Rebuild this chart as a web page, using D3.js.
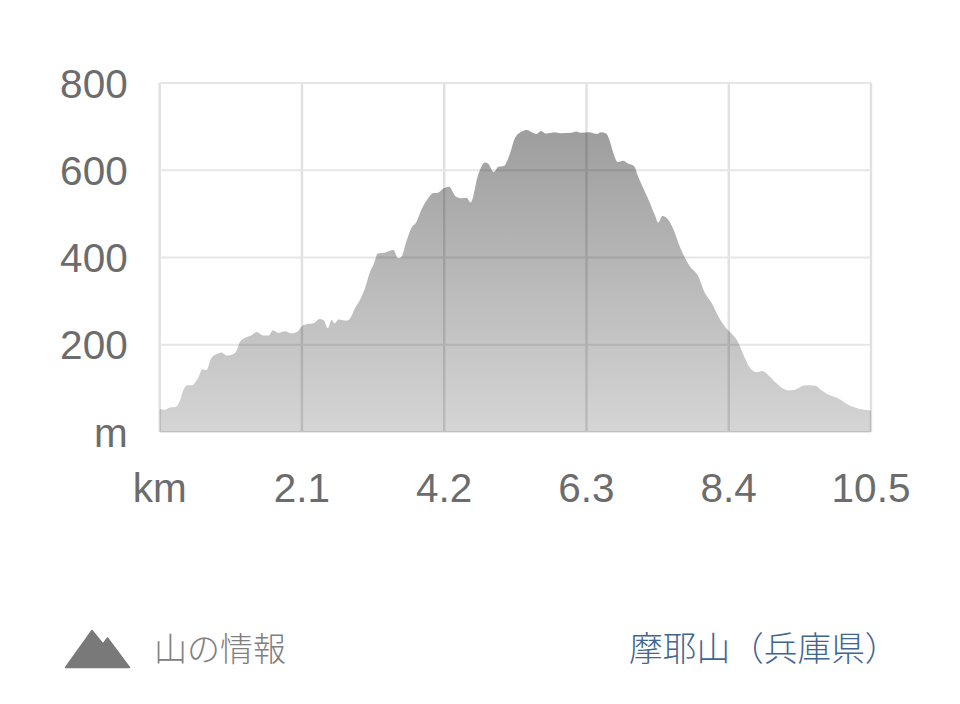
<!DOCTYPE html>
<html><head><meta charset="utf-8">
<script src="https://cdn.jsdelivr.net/npm/d3@7"></script>
<style>
html,body{margin:0;padding:0;background:#fff}
svg{display:block}
.axis text{font-family:"Liberation Sans",Arial,sans-serif;font-size:40.5px;fill:#6c6c6c}
.axis path.domain{display:none}
.axis line{stroke:#e6e6e6;stroke-width:2.2px}
.axis.xa line{stroke:#e0e0e0;stroke-width:2.4px}
</style></head><body>
<svg id="c" width="960" height="704"></svg>
<script>
const distanceKm=[0,.07,.15,.24,.30,.36,.42,.47,.57,.63,.69,.76,.86,.91,.99,1.08,1.14,1.18,1.28,1.35,1.43,1.53,1.61,1.67,1.75,1.85,1.94,2.04,2.12,2.27,2.36,2.42,2.48,2.54,2.58,2.64,2.76,2.81,2.88,2.95,3.03,3.10,3.16,3.22,3.32,3.45,3.52,3.57,3.64,3.72,3.78,3.87,3.96,4.04,4.10,4.19,4.27,4.37,4.46,4.53,4.59,4.70,4.80,4.85,4.93,5.0,5.08,5.17,5.24,5.34,5.42,5.49,5.56,5.63,5.70,5.83,5.91,6.08,6.15,6.21,6.33,6.40,6.46,6.51,6.59,6.64,6.70,6.76,6.84,6.92,7.0,7.07,7.14,7.24,7.31,7.36,7.42,7.48,7.58,7.68,7.83,7.94,8.05,8.15,8.25,8.35,8.44,8.52,8.62,8.70,8.81,8.89,9.0,9.11,9.28,9.36,9.53,9.68,9.75,9.85,10.02,10.17,10.34,10.5];
const elevationM=[53,51,56,58,73,100,108,107,125,144,142,169,180,182,175,178,188,205,217,221,229,221,221,233,227,231,226,231,245,249,259,256,238,257,249,258,255,260,283,301,329,365,385,409,411,417,398,402,436,469,479,512,535,548,548,558,562,540,536,537,526,589,618,615,596,608,610,638,672,688,692,687,683,690,684,687,685,686,689,686,687,685,683,687,684,669,638,619,622,615,610,583,558,524,497,480,495,491,466,424,379,360,318,295,264,240,226,211,176,150,137,140,128,111,95,96,107,106,98,87,77,62,53,49];
const xTicks=[0,2.1,4.2,6.3,8.4,10.5];
const xTickLabels=["km","2.1","4.2","6.3","8.4","10.5"];
const yTicks=[0,200,400,600,800];
const yTickLabels=["m","200","400","600","800"];
const infoLabel="山の情報";
const placeLabel="摩耶山（兵庫県）";

const svg=d3.select("#c");
const x=d3.scaleLinear().domain([0,10.5]).range([159.7,871]);
const y=d3.scaleLinear().domain([0,800]).range([432,83]);

const grad=svg.append("defs").append("linearGradient").attr("id","g")
  .attr("gradientUnits","userSpaceOnUse").attr("x1",0).attr("x2",0).attr("y1",y(700)).attr("y2",y(0));
grad.append("stop").attr("offset",0).attr("stop-color","#000").attr("stop-opacity",.385);
grad.append("stop").attr("offset",1).attr("stop-color","#000").attr("stop-opacity",.165);

svg.append("g").attr("class","axis xa").attr("transform","translate(0,432)")
  .call(d3.axisBottom(x).offset(0).tickValues(xTicks).tickFormat((d,i)=>xTickLabels[i]).tickSize(-(432-83)))
  .selectAll("text").attr("dy",0).attr("y",70);

svg.append("g").attr("class","axis").attr("transform","translate(159.7,0)")
  .call(d3.axisLeft(y).offset(0).tickValues(yTicks).tickFormat((d,i)=>yTickLabels[i]).tickSize(-(871-159.7)).tickPadding(32))
  .selectAll("text").attr("dy",0).attr("y",14.5);

const pts=distanceKm.map((d,i)=>[d,elevationM[i]]);
const area=d3.area().x(d=>x(d[0])).y0(y(0)).y1(d=>y(d[1])).curve(d3.curveMonotoneX);
svg.append("path").datum(pts).attr("d",area).attr("fill","url(#g)");

svg.append("path").attr("d","M65.5 667.5L92 630.5L103 644L107.5 638L129.5 667.5Z")
  .attr("fill","#797979").attr("stroke","#797979").attr("stroke-width",1.5).attr("stroke-linejoin","round");
svg.append("text").attr("x",154).attr("y",661).text(infoLabel)
  .attr("font-family","'Noto Sans CJK JP'").attr("font-size",33).attr("font-weight",300).attr("fill","#808080");
svg.append("text").attr("x",629).attr("y",661).text(placeLabel)
  .attr("font-family","'Noto Sans CJK JP'").attr("font-size",33.7).attr("font-weight",300).attr("fill","#3f6690");
</script></body></html>
